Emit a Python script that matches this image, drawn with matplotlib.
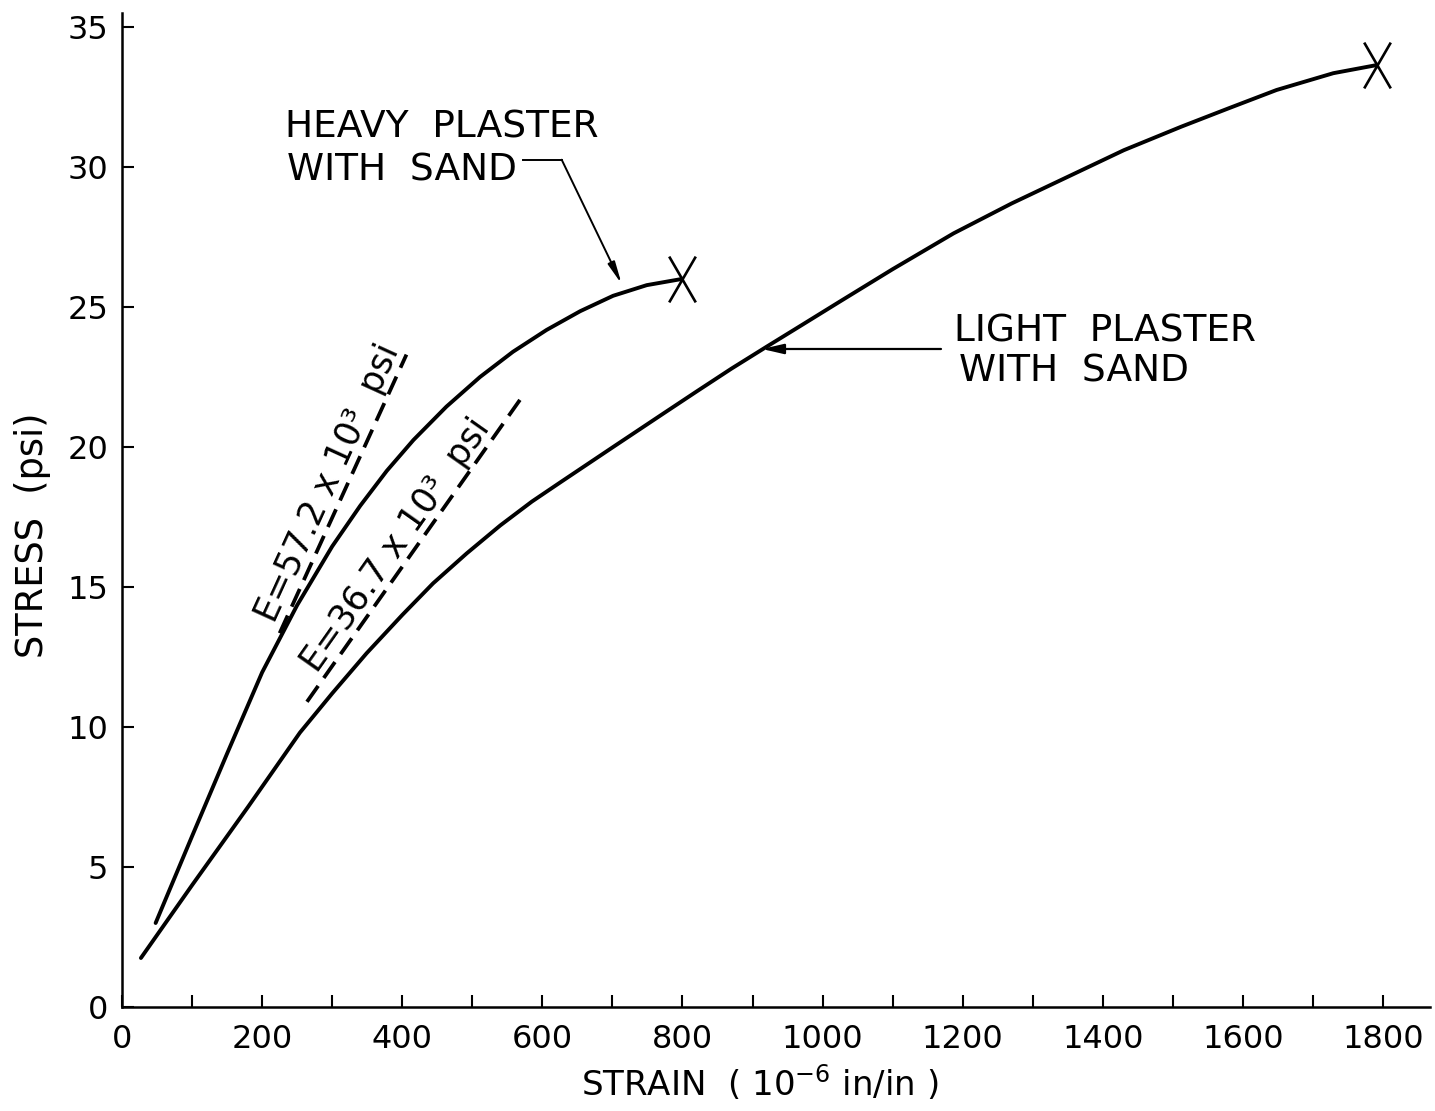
import matplotlib
matplotlib.use('Agg')
import matplotlib.pyplot as plt
from matplotlib.path import Path
from matplotlib.ticker import MultipleLocator

# ---------------- data ----------------
heavy_strain = [48, 100, 150, 200, 250, 300, 340, 378, 416, 463, 511, 558, 606, 654, 701, 749, 799]
heavy_stress = [3.0, 6.1, 9.05, 11.95, 14.35, 16.45, 17.9, 19.15, 20.25, 21.44, 22.5, 23.4, 24.18, 24.85, 25.4, 25.78, 26.0]

light_strain = [27, 100, 180, 254, 300, 349, 400, 444, 492, 540, 585, 627, 701, 773, 820, 870, 920,
                970, 1025, 1100, 1187, 1270, 1350, 1430, 1512, 1580, 1648, 1729, 1791]
light_stress = [1.75, 4.35, 7.15, 9.8, 11.2, 12.63, 14.0, 15.13, 16.2, 17.2, 18.05, 18.76, 20.0, 21.2, 21.98, 22.8, 23.58,
                24.35, 25.2, 26.35, 27.63, 28.7, 29.65, 30.6, 31.44, 32.1, 32.75, 33.35, 33.64]

# initial-modulus (dashed) lines
heavy_mod_strain = [225, 406]
heavy_mod_stress = [13.35, 23.3]
light_mod_strain = [264, 573]
light_mod_stress = [10.9, 21.86]

x_tick_values = [0, 200, 400, 600, 800, 1000, 1200, 1400, 1600, 1800]
y_tick_values = [0, 5, 10, 15, 20, 25, 30, 35]

heavy_label = ["HEAVY  PLASTER", "WITH  SAND"]
light_label = ["LIGHT  PLASTER", "WITH  SAND"]
heavy_E_label = "E=57.2 x 10³  psi"
light_E_label = "E=36.7 x 10³  psi"

# ---------------- figure ----------------
plt.rcParams['font.family'] = ['DejaVu Sans']
plt.rcParams['mathtext.fontset'] = 'dejavusans'
plt.rcParams['lines.scale_dashes'] = False

fig = plt.figure(figsize=(14.35, 11.11), dpi=100)
ax = fig.add_axes([0.08502, 0.09361, 0.9115, 0.8947])
ax.set_xlim(0, 1867)
ax.set_ylim(0, 35.5)

for s in ['top', 'right']:
    ax.spines[s].set_visible(False)
for s in ['left', 'bottom']:
    ax.spines[s].set_linewidth(1.8)

ax.set_xticks(x_tick_values)
ax.set_xticklabels([str(v) for v in x_tick_values])
ax.xaxis.set_minor_locator(MultipleLocator(100))
ax.set_yticks(y_tick_values)
ax.set_yticklabels([str(v) for v in y_tick_values])
ax.tick_params(axis='both', which='both', direction='in', length=8.5, width=1.5, labelsize=23)
ax.tick_params(axis='x', which='major', pad=12)
ax.tick_params(axis='y', which='major', pad=10)

lw = 2.8
ax.plot(heavy_strain, heavy_stress, color='black', lw=lw, solid_capstyle='round',
        solid_joinstyle='round')
ax.plot(light_strain, light_stress, color='black', lw=lw, solid_capstyle='round',
        solid_joinstyle='round')

ax.plot(heavy_mod_strain, heavy_mod_stress, color='black', lw=2.7, dashes=(14, 7))
ax.plot(light_mod_strain, light_mod_stress, color='black', lw=2.7, dashes=(14, 7))

xpath = Path([(-0.58, -1), (0.58, 1), (-0.58, 1), (0.58, -1)],
             [Path.MOVETO, Path.LINETO, Path.MOVETO, Path.LINETO])
ax.plot([heavy_strain[-1]], [heavy_stress[-1]], marker=xpath, ms=33, mew=1.9,
        color='black', ls='none')
ax.plot([light_strain[-1]], [light_stress[-1]], marker=xpath, ms=33, mew=1.9,
        color='black', ls='none')

# modulus labels (rotated along dashed lines, sitting just above them)
ax.text(294.6, 18.73, heavy_E_label, rotation=65.5, rotation_mode='anchor',
        ha='center', va='center', fontsize=25)
ax.text(390.8, 16.51, light_E_label, rotation=54.8, rotation_mode='anchor',
        ha='center', va='center', fontsize=25)

# heavy plaster label with leader
ax.text(232, 31.05, heavy_label[0], ha='left', va='baseline', fontsize=27)
ax.text(236, 29.5, heavy_label[1], ha='left', va='baseline', fontsize=27)
ax.plot([572.8, 627.6], [30.26, 30.26], color='black', lw=1.4)
ax.annotate('', xy=(713.2, 25.82), xytext=(627.6, 30.26),
            arrowprops=dict(arrowstyle='-|>,head_length=1.3,head_width=0.22',
                            lw=1.4, color='black', shrinkA=0, shrinkB=0))

# light plaster label with arrow
ax.text(1187.5, 23.75, light_label[0], ha='left', va='baseline', fontsize=27)
ax.text(1195.4, 22.35, light_label[1], ha='left', va='baseline', fontsize=27)
ax.annotate('', xy=(913.5, 23.5), xytext=(1169, 23.5),
            arrowprops=dict(arrowstyle='-|>,head_length=1.3,head_width=0.3',
                            lw=1.6, color='black', shrinkA=0, shrinkB=0))

# axis labels
fig.text(760 / 1435, 1 - 1096 / 1111, r'STRAIN  ( 10$^{-6}$ in/in )',
         ha='center', va='baseline', fontsize=24.5)
fig.text(33 / 1435, 1 - 535 / 1111, 'STRESS  (psi)', rotation=90,
         ha='center', va='center', fontsize=26.5)

fig.savefig('out.png', dpi=100)
